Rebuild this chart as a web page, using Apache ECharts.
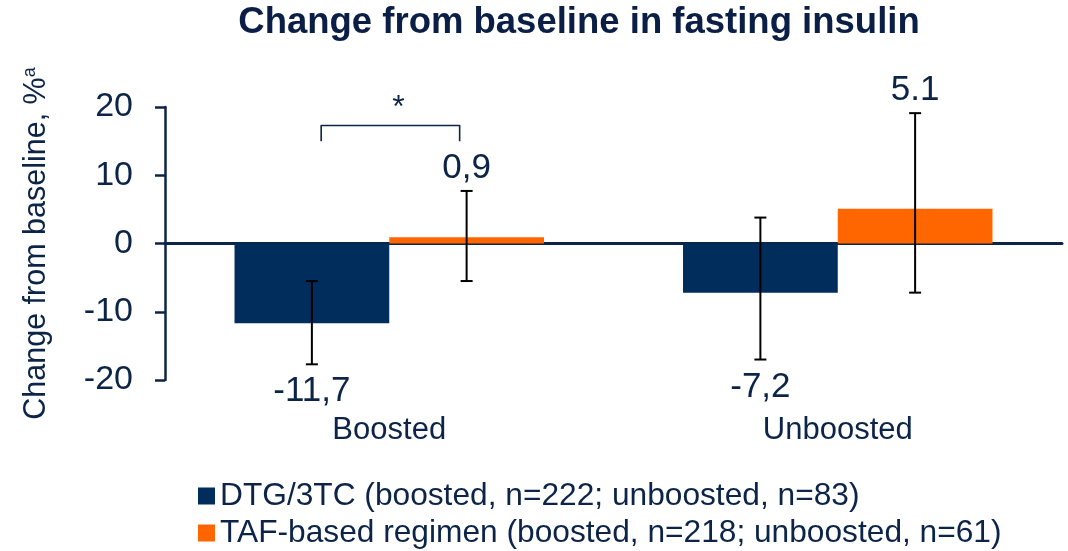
<!DOCTYPE html>
<html>
<head>
<meta charset="utf-8">
<title>Change from baseline in fasting insulin</title>
<script src="https://cdn.jsdelivr.net/npm/echarts@6/dist/echarts.min.js"></script>
<style>
  html, body { margin: 0; padding: 0; background: #ffffff; }
  #chart { width: 1068px; height: 551px; }
</style>
</head>
<body>
<div id="chart"></div>
<script>
// Categories and series
const categories = ['Boosted', 'Unboosted'];
const seriesNames = [
  'DTG/3TC (boosted, n=222; unboosted, n=83)',
  'TAF-based regimen (boosted, n=218; unboosted, n=61)'
];

// Mean change from baseline (%)
const dtgValues = [-11.7, -7.2];
const tafValues = [0.9, 5.1];

// 95% CI limits
const dtgLow = [-17.7, -17.0];
const dtgHigh = [-5.5, 3.8];
const tafLow = [-5.5, -7.2];
const tafHigh = [7.7, 19.1];

// Value labels as printed
const dtgLabels = ['-11,7', '-7,2'];
const tafLabels = ['0,9', '5.1'];

// Y axis ticks
const yMin = -20;
const yMax = 20;
const yInterval = 10;

// Significance marker between the boosted bars
const sigBracket = { category: 0, top: 17.3, bottom: 15.0, mark: '*' };

const NAVY = '#002d5c';
const ORANGE = '#ff6600';
const TEXT = '#0c2447';
const FONT = '"Liberation Sans", Arial, sans-serif';
const CAT_GAP = 0.31;

function barGeometry(api, cat) {
  const center = api.coord([cat, 0])[0];
  const band = api.size([1, 0])[0];
  const barW = band * (1 - CAT_GAP) / 2;
  return { center, barW };
}

// Error bars with the value label beyond the whisker end
function errorRenderer(slot, labels, values) {
  return function (params, api) {
    const cat = api.value(0);
    const low = api.coord([cat, api.value(1)]);
    const high = api.coord([cat, api.value(2)]);
    const g = barGeometry(api, cat);
    const x = g.center + (slot === 0 ? -1 : 1) * g.barW / 2;
    const cap = 6;
    const stroke = { stroke: '#000000', lineWidth: 2 };
    const positive = values[params.dataIndex] >= 0;
    return {
      type: 'group',
      children: [
        { type: 'line', shape: { x1: x, y1: low[1], x2: x, y2: high[1] }, style: stroke },
        { type: 'line', shape: { x1: x - cap, y1: low[1], x2: x + cap, y2: low[1] }, style: stroke },
        { type: 'line', shape: { x1: x - cap, y1: high[1], x2: x + cap, y2: high[1] }, style: stroke },
        {
          type: 'text',
          style: {
            text: labels[params.dataIndex],
            x: x,
            y: positive ? high[1] - 5 : low[1] + 10,
            align: 'center',
            verticalAlign: positive ? 'bottom' : 'top',
            fill: TEXT,
            font: '35px ' + FONT
          }
        }
      ]
    };
  };
}

function errorData(low, high) {
  return categories.map((c, i) => [i, low[i], high[i]]);
}

const chart = echarts.init(document.getElementById('chart'), null, { renderer: 'canvas' });

chart.setOption({
  animation: false,
  backgroundColor: '#ffffff',
  textStyle: { fontFamily: FONT },
  title: {
    text: 'Change from baseline in fasting insulin',
    left: 574,
    top: -1,
    textAlign: 'center',
    textStyle: { fontSize: 36.5, fontWeight: 'bold', color: '#0b1f46', fontFamily: FONT }
  },
  grid: { left: 165, right: 6, top: 107, bottom: 171, containLabel: false },
  legend: {
    data: seriesNames,
    orient: 'vertical',
    left: 198,
    top: 480,
    height: 70,
    padding: 0,
    itemWidth: 17,
    itemHeight: 17,
    itemGap: 5,
    icon: 'rect',
    textStyle: { fontSize: 31.7, lineHeight: 30, color: TEXT, fontFamily: FONT }
  },
  xAxis: [
    {
      type: 'category',
      data: categories,
      axisLine: { onZero: true, lineStyle: { color: TEXT, width: 3 } },
      axisTick: { show: false },
      axisLabel: { show: false },
      splitLine: { show: false }
    },
    {
      type: 'category',
      data: categories,
      position: 'bottom',
      axisLine: { show: false, onZero: false },
      axisTick: { show: false },
      axisLabel: { fontSize: 31, color: TEXT, margin: 35, fontFamily: FONT },
      splitLine: { show: false }
    }
  ],
  yAxis: {
    type: 'value',
    min: yMin,
    max: yMax,
    interval: yInterval,
    name: 'Change from baseline, %{sup|a}',
    nameLocation: 'middle',
    nameRotate: 90,
    nameGap: 112,
    nameTextStyle: {
      fontSize: 30.5,
      color: TEXT,
      fontFamily: FONT,
      rich: { sup: { fontSize: 18, color: TEXT, fontFamily: FONT, padding: [0, 0, 14, 0] } }
    },
    axisLine: { show: true, lineStyle: { color: TEXT, width: 2.5 } },
    axisTick: { show: true, length: 10, lineStyle: { color: TEXT, width: 2.5 } },
    axisLabel: { fontSize: 34, color: TEXT, margin: 32, fontFamily: FONT },
    splitLine: { show: false }
  },
  series: [
    {
      name: seriesNames[0],
      type: 'bar',
      data: dtgValues,
      barGap: '0%',
      barCategoryGap: (CAT_GAP * 100) + '%',
      itemStyle: { color: NAVY }
    },
    {
      name: seriesNames[1],
      type: 'bar',
      data: tafValues,
      itemStyle: { color: ORANGE }
    },
    {
      type: 'custom',
      name: 'dtg-ci',
      data: errorData(dtgLow, dtgHigh),
      renderItem: errorRenderer(0, dtgLabels, dtgValues),
      z: 5
    },
    {
      type: 'custom',
      name: 'taf-ci',
      data: errorData(tafLow, tafHigh),
      renderItem: errorRenderer(1, tafLabels, tafValues),
      z: 5
    },
    {
      type: 'custom',
      name: 'significance',
      data: [[sigBracket.category, sigBracket.top, sigBracket.bottom]],
      renderItem: function (params, api) {
        const cat = api.value(0);
        const g = barGeometry(api, cat);
        const yTop = api.coord([cat, api.value(1)])[1];
        const yBot = api.coord([cat, api.value(2)])[1];
        const xL = g.center - g.barW / 2 + g.barW * 0.06;
        const xR = g.center + g.barW / 2 - g.barW * 0.045;
        return {
          type: 'group',
          children: [
            {
              type: 'polyline',
              shape: { points: [[xL, yBot], [xL, yTop], [xR, yTop], [xR, yBot]] },
              style: { stroke: TEXT, lineWidth: 1.6, fill: null, lineJoin: 'round' }
            },
            {
              type: 'text',
              style: {
                text: sigBracket.mark,
                x: g.center + g.barW * 0.06,
                y: yTop - 1,
                align: 'center',
                verticalAlign: 'bottom',
                fill: TEXT,
                font: '32px ' + FONT
              }
            }
          ]
        };
      },
      z: 5
    }
  ]
});
</script>
</body>
</html>
